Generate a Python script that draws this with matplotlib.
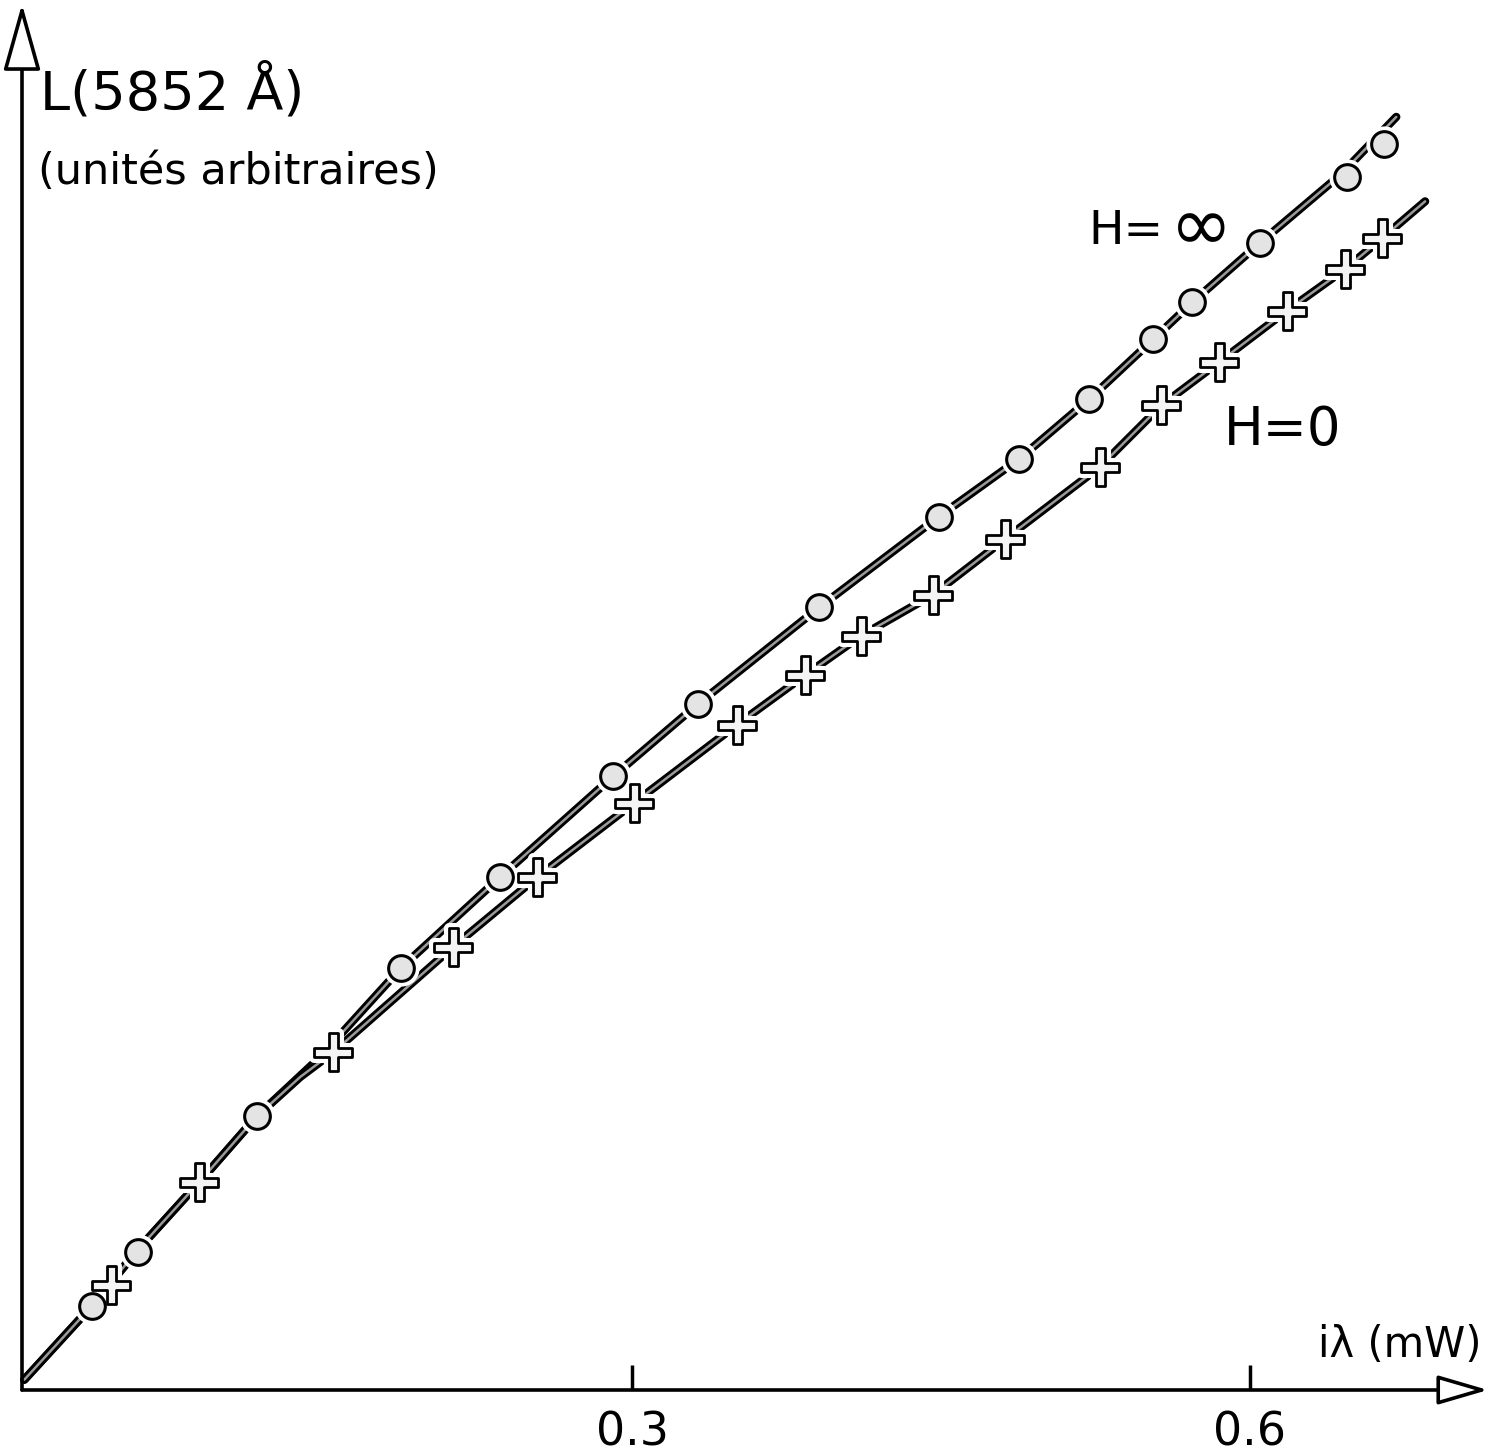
import matplotlib
matplotlib.use("Agg")
import matplotlib.pyplot as plt
import matplotlib.patheffects as pe
from matplotlib.path import Path

# ---------------- data ----------------
# H = infinity : measured points (circles)
x_inf = [0.038, 0.060, 0.118, 0.188, 0.236, 0.291, 0.332, 0.391, 0.449, 0.488,
         0.522, 0.553, 0.572, 0.605, 0.647, 0.665]
y_inf = [0.041, 0.067, 0.133, 0.205, 0.249, 0.298, 0.333, 0.380, 0.424, 0.452,
         0.481, 0.510, 0.528, 0.557, 0.589, 0.605]

# H = 0 : measured points (crosses)
x_zero = [0.047, 0.090, 0.155, 0.213, 0.254, 0.301, 0.351, 0.384, 0.411, 0.446,
          0.481, 0.527, 0.557, 0.585, 0.618, 0.646, 0.664]
y_zero = [0.051, 0.101, 0.164, 0.215, 0.249, 0.285, 0.323, 0.347, 0.366, 0.386,
          0.413, 0.448, 0.478, 0.499, 0.524, 0.544, 0.559]

# hand-drawn curves through the points
fit_inf_x = [0.005, 0.038, 0.060, 0.090, 0.118, 0.148, 0.188, 0.236, 0.291, 0.332,
             0.391, 0.449, 0.488, 0.522, 0.553, 0.572, 0.605, 0.644, 0.671]
fit_inf_y = [0.005, 0.041, 0.068, 0.101, 0.133, 0.161, 0.205, 0.249, 0.298, 0.333,
             0.380, 0.424, 0.452, 0.481, 0.510, 0.528, 0.557, 0.590, 0.618]
fit_zero_x = [0.005, 0.038, 0.060, 0.090, 0.118, 0.139, 0.155, 0.213, 0.254, 0.301,
              0.351, 0.384, 0.411, 0.446, 0.481, 0.527, 0.557, 0.585, 0.618, 0.646,
              0.664, 0.685]
fit_zero_y = [0.005, 0.041, 0.068, 0.101, 0.133, 0.152, 0.164, 0.215, 0.249, 0.285,
              0.323, 0.347, 0.366, 0.386, 0.413, 0.448, 0.478, 0.499, 0.524, 0.544,
              0.559, 0.577]

x_ticks = [0.3, 0.6]
x_tick_labels = ["0.3", "0.6"]

# ---------------- layout ----------------
W, H = 1490, 1453
DPI = 100
fig = plt.figure(figsize=(W / DPI, H / DPI), dpi=DPI)
ax = fig.add_axes([0, 0, 1, 1])
ax.set_facecolor("white")

# pixel calibration of the drawing (0.3 at px 632, 0.6 at px 1250, axis at py 1390)
s = 0.3 / 618.0
def dx(px):
    return 0.3 + (px - 632) * s
def dy(py):
    return (1390 - py) * s

ax.set_xlim(dx(0), dx(W))
ax.set_ylim(dy(H), dy(0))
for sp in ax.spines.values():
    sp.set_visible(False)
ax.spines["bottom"].set_position(("data", 0))

FONT = ["DejaVu Sans"]

# axes with open arrows
x_ax = dx(22)
ax.annotate("", xy=(x_ax, dy(4)), xytext=(x_ax, 0), zorder=5,
            arrowprops=dict(arrowstyle="-|>,head_length=1.5,head_width=0.42", lw=2.6,
                            color="black", fc="white", mutation_scale=28,
                            shrinkA=0, shrinkB=0))
ax.annotate("", xy=(dx(1488), 0), xytext=(x_ax, 0), zorder=5,
            arrowprops=dict(arrowstyle="-|>,head_length=1.3,head_width=0.38", lw=2.6,
                            color="black", fc="white", mutation_scale=24,
                            shrinkA=0, shrinkB=0))

# ticks
ax.set_xticks(x_ticks)
ax.set_xticklabels(x_tick_labels, family=FONT, fontsize=33)
ax.tick_params(axis="x", direction="in", length=18, width=2.5, pad=15, color="black")
ax.set_yticks([])

# curves (outlined double stroke look)
stroke = [pe.Stroke(linewidth=6.0, foreground="black"), pe.Normal()]
ax.plot(fit_inf_x, fit_inf_y, color="#9a9a9a", lw=1.8, path_effects=stroke,
        solid_capstyle="round", zorder=2)
ax.plot(fit_zero_x, fit_zero_y, color="#9a9a9a", lw=1.8, path_effects=stroke,
        solid_capstyle="round", zorder=2)

# plus-shaped marker
a, b = 0.24, 1.0
plus = Path([(-a, -b), (-a, -a), (-b, -a), (-b, a), (-a, a), (-a, b), (a, b), (a, a),
             (b, a), (b, -a), (a, -a), (a, -b), (-a, -b)], closed=True)

# white halos to break the lines at markers
ax.plot(x_inf, y_inf, ls="none", marker="o", ms=25, mfc="white", mec="white", zorder=3)
ax.plot(x_zero, y_zero, ls="none", marker=plus, ms=27, mfc="white", mec="white",
        mew=8, zorder=3)

# markers
ax.plot(x_inf, y_inf, ls="none", marker="o", ms=18.5, mfc="#e4e4e4", mec="black",
        mew=2.2, zorder=4)
ax.plot(x_zero, y_zero, ls="none", marker=plus, ms=27, mfc="#f4f4f4", mec="black",
        mew=2.0, zorder=4)

# texts
def ftext(px, py, t, **kw):
    fig.text(px / W, 1 - py / H, t, family=FONT, **kw)

ftext(40, 110, "L(5852 Å)", fontsize=39, ha="left", va="baseline")
ftext(38, 184, "(unités arbitraires)", fontsize=31, ha="left", va="baseline")
ftext(1088, 244, "H=", fontsize=34, ha="left", va="baseline")
ftext(1170, 250, "∞", fontsize=54, ha="left", va="baseline")
ftext(1224, 445, "H=0", fontsize=38, ha="left", va="baseline")
ftext(1318, 1357, "iλ (mW)", fontsize=30, ha="left", va="baseline")

fig.savefig("out.png", dpi=DPI, facecolor="white")
